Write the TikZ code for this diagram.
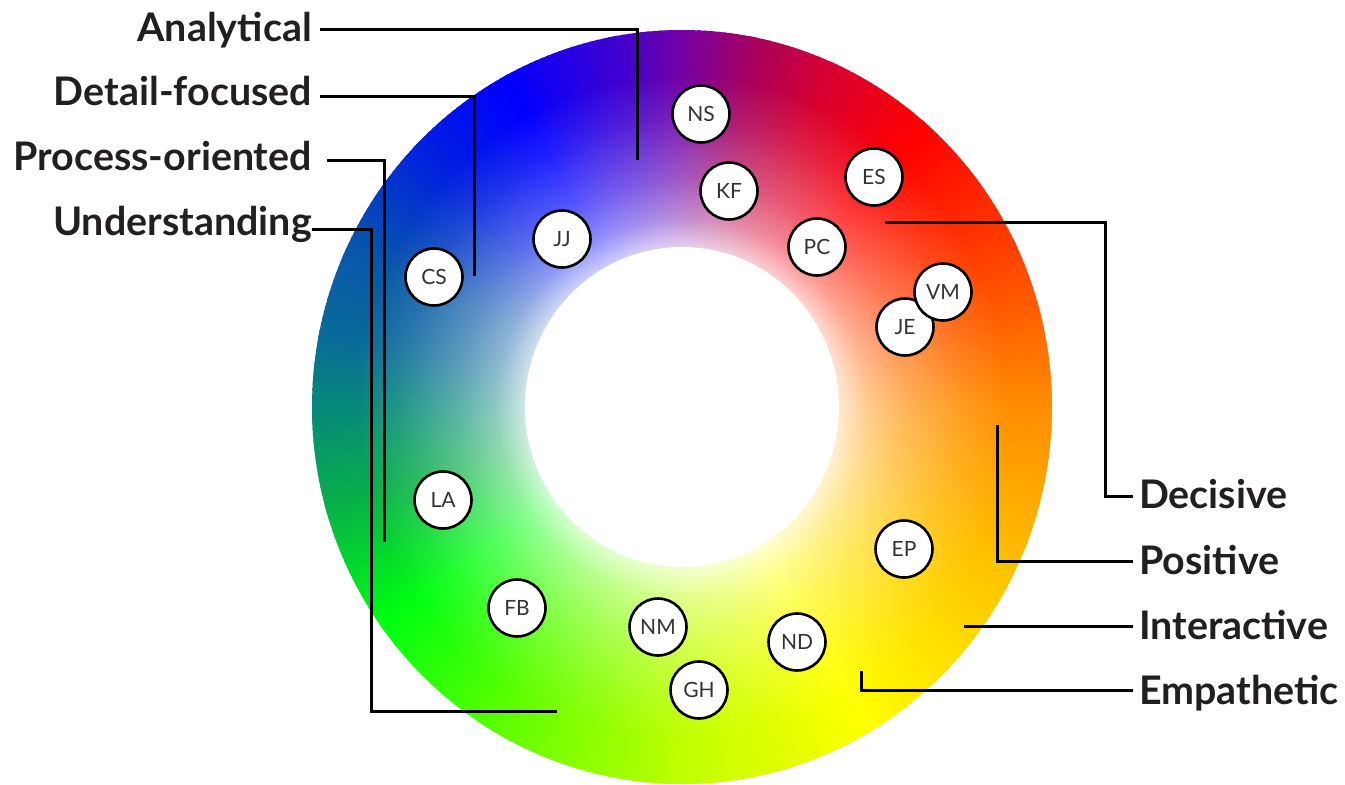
\documentclass[tikz,border=0pt]{standalone}
\usepackage{fontspec}
\setmainfont{Lato}
\usetikzlibrary{fadings}
\definecolor{inkgray}{HTML}{231F20}
\definecolor{initgray}{HTML}{333333}
% hues round the ring
\definecolor{hYel}{HTML}{FFFF00}
\definecolor{hGold}{HTML}{FFC800}
\definecolor{hOra}{HTML}{FF8C00}
\definecolor{hRedOra}{HTML}{FF4000}
\definecolor{hRed}{HTML}{FF0000}
\definecolor{hCrim}{HTML}{D80030}
\definecolor{hMag}{HTML}{A8005E}
\definecolor{hPur}{HTML}{7000A8}
\definecolor{hVio}{HTML}{4000D0}
\definecolor{hBlue}{HTML}{0000FF}
\definecolor{hBlue2}{HTML}{0020E0}
\definecolor{hSteel}{HTML}{0858A8}
\definecolor{hPetrol}{HTML}{0A6A9A}
\definecolor{hTeal}{HTML}{058A78}
\definecolor{hGreen1}{HTML}{08B048}
\definecolor{hGreen}{HTML}{00FF10}
\definecolor{hLime}{HTML}{60FF00}
\definecolor{hChart}{HTML}{C0FF00}
\pgfdeclareradialshading{ringmask}{\pgfpointorigin}{color(0bp)=(white); color(10.5bp)=(white!82!black); color(12.5bp)=(white!55!black); color(15bp)=(white!35!black); color(19bp)=(white!12!black); color(22bp)=(black); color(50bp)=(black)}
\pgfdeclarefading{ringfade}{\pgfuseshading{ringmask}}
\tikzset{
  person/.style={circle, draw=black, line width=2.6pt, fill=white, minimum size=57pt, inner sep=0pt, text=initgray, font=\fontsize{21}{21}\selectfont},
  trait/.style={inner sep=0pt, text=inkgray, text height=29pt, text depth=0pt, font=\fontsize{39.4}{40}\selectfont\bfseries},
  leader/.style={draw=black, line width=3pt},
}

\begin{document}
\begin{tikzpicture}[x=1pt, y=-1pt]
\useasboundingbox (0,0) rectangle (1345,785);

% colour ring
\begin{scope}[shift={(682,407)}, y=1pt]
\foreach \aa/\ab/\ca/\cb in {-60/-30/hYel/hGold, -30/0/hGold/hOra, 0/25/hOra/hRedOra, 25/48/hRedOra/hRed, 48/65/hRed/hCrim, 65/78/hCrim/hMag, 78/90/hMag/hPur, 90/100/hPur/hVio, 100/118/hVio/hBlue, 118/135/hBlue/hBlue2, 135/155/hBlue2/hSteel, 155/168/hSteel/hPetrol, 168/180/hPetrol/hTeal, 180/195/hTeal/hGreen1, 195/215/hGreen1/hGreen, 215/240/hGreen/hLime, 240/270/hLime/hChart, 270/300/hChart/hYel}{
  \foreach \t [evaluate=\t as \p using {int(100*(\t-\aa)/(\ab-\aa))}] in {\aa,...,\ab}
    \fill[\cb!\p!\ca] (0,0) -- (\t:370 and 377) arc[start angle=\t, end angle=\t+1.6, x radius=370, y radius=377] -- cycle;
}
\fill[white, path fading=ringfade] (0,0) ellipse[x radius=370, y radius=377];
\fill[white] (0,0) ellipse[x radius=157, y radius=160];
\end{scope}

% traits
\node[trait, anchor=base east] (analytical) at (312,41) {Analytical};
\node[trait, anchor=base east] (detail) at (312,105) {Detail-focused};
\node[trait, anchor=base east] (process) at (312,170) {Process-oriented};
\node[trait, anchor=base east] (understanding) at (312,235) {Understanding};
\node[trait, anchor=base west] (decisive) at (1139,508) {Decisive};
\node[trait, anchor=base west] (positive) at (1139,574) {Positive};
\node[trait, anchor=base west] (interactive) at (1139,639) {Interactive};
\node[trait, anchor=base west] (empathetic) at (1139,704) {Empathetic};

\coordinate (analytical-end) at (637,160);
\coordinate (detail-end) at (474,276);
\coordinate (process-end) at (384,542);
\coordinate (understanding-turn) at (371,711);
\coordinate (understanding-end) at (557,711);
\coordinate (decisive-turn) at (1105,222);
\coordinate (decisive-end) at (885,222);
\coordinate (positive-end) at (997,425);
\coordinate (interactive-end) at (964,626);
\coordinate (empathetic-end) at (861,671);

\draw[leader] ([xshift=8pt,yshift=-2.5pt]analytical.east) -| (analytical-end);
\draw[leader] ([xshift=8pt,yshift=-5.5pt]detail.east) -| (detail-end);
\draw[leader] ([xshift=15pt,yshift=-4.5pt]process.east) -| (process-end);
\draw[leader] ([yshift=-8.5pt]understanding.east) -| (understanding-turn) -- (understanding-end);
\draw[leader] ([xshift=-6pt,yshift=-2.5pt]decisive.west) -| (decisive-turn) -- (decisive-end);
\draw[leader] ([xshift=-6pt,yshift=-1.5pt]positive.west) -| (positive-end);
\draw[leader] ([xshift=-6pt,yshift=-1.5pt]interactive.west) -- (interactive-end);
\draw[leader] ([xshift=-6pt,yshift=-0.5pt]empathetic.west) -| (empathetic-end);

% people
\node[person] (ns) at (701,114) {NS};
\node[person] (kf) at (729,191) {KF};
\node[person] (es) at (874,177) {ES};
\node[person] (pc) at (817,247) {PC};
\node[person] (je) at (905,327) {JE};
\node[person] (vm) at (943,292) {VM};
\node[person] (jj) at (562,239) {JJ};
\node[person] (cs) at (434,277) {CS};
\node[person] (la) at (443,500) {LA};
\node[person] (fb) at (517,608) {FB};
\node[person] (nm) at (658,627) {NM};
\node[person] (gh) at (699,690) {GH};
\node[person] (nd) at (797,642) {ND};
\node[person] (ep) at (904,549) {EP};
\end{tikzpicture}
\end{document}
